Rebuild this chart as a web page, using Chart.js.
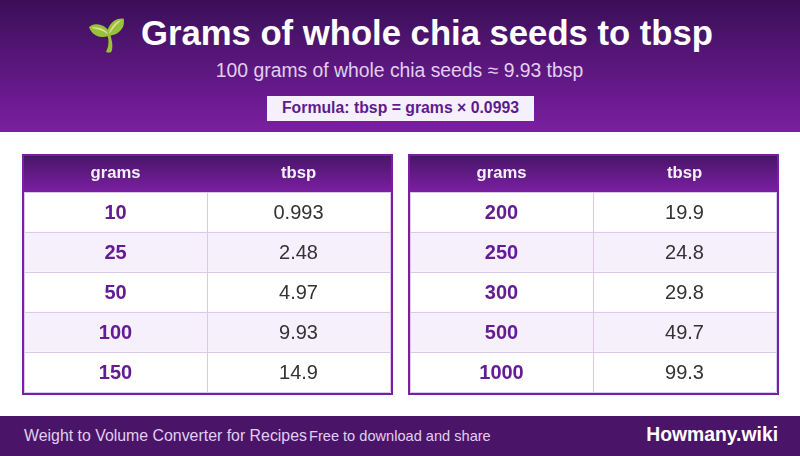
<!DOCTYPE html>
<html>
<head>
<meta charset="utf-8">
<script src="https://cdn.jsdelivr.net/npm/chart.js@4/dist/chart.umd.min.js"></script>
<style>
  html, body { margin: 0; padding: 0; background: #fff; }
  body { width: 800px; height: 456px; position: relative; overflow: hidden; font-family: "Liberation Sans", Arial, sans-serif; }
  .top { position: absolute; left: 0; top: 0; width: 800px; height: 132px; background: linear-gradient(180deg, #3a0f58, #7b1fa2); text-align: center; }
  .top h1 { position: absolute; left: 141px; top: 13px; margin: 0; font-size: 34.67px; line-height: 40px; font-weight: bold; color: #fff; white-space: pre; }
  .top .sprout { position: absolute; left: 87px; top: 15px; font-size: 32px; line-height: 40px; }
  .top .sub { position: absolute; left: 0; right: 1px; top: 60px; font-size: 19.33px; line-height: 21px; color: #e0d0ee; }
  .top .formula { position: absolute; left: 267px; top: 96px; width: 267px; height: 25px; line-height: 24px; background: #f5f0fb; color: #5f1a8e; font-size: 15.8px; font-weight: bold; }
  .table { position: absolute; top: 154px; width: 367px; height: 237px; border: 2px solid #7b1fa2; }
  .table .head { position: absolute; left: 0; top: 0; width: 367px; height: 36px; background: linear-gradient(180deg, #4a1569, #7b1fa2); }
  .table canvas { position: absolute; left: 0; top: 0; }
  .foot { position: absolute; left: 0; top: 416px; width: 800px; height: 40px; background: #4a1569; color: #e0cff0; white-space: nowrap; }
  .foot span { position: absolute; line-height: 40px; }
  .foot .a { left: 24px; font-size: 15.88px; }
  .foot .b { left: 309px; font-size: 14.6px; }
  .foot .brand { right: 22px; top: -1px; font-size: 19.33px; font-weight: bold; color: #fff; }
</style>
</head>
<body>
<div class="top">
  <span class="sprout">🌱</span>
  <h1>Grams of whole chia seeds to tbsp</h1>
  <div class="sub">100 grams of whole chia seeds ≈ 9.93 tbsp</div>
  <div class="formula">Formula: tbsp = grams × 0.0993</div>
</div>
<div class="table" style="left:22px"><div class="head"></div><canvas id="tableLeft" width="367" height="237"></canvas></div>
<div class="table" style="left:408px"><div class="head"></div><canvas id="tableRight" width="367" height="237"></canvas></div>
<div class="foot">
  <span class="a">Weight to Volume Converter for Recipes</span>
  <span class="b">Free to download and share</span>
  <span class="brand">Howmany.wiki</span>
</div>
<script>
const columns = ['grams', 'tbsp'];
const gramsLeft = ['10', '25', '50', '100', '150'];
const tbspLeft = ['0.993', '2.48', '4.97', '9.93', '14.9'];
const gramsRight = ['200', '250', '300', '500', '1000'];
const tbspRight = ['19.9', '24.8', '29.8', '49.7', '99.3'];

const lineColor = '#dbc9ea';
const stripeColor = '#f5f0fb';

// draws the cell values at the scale positions of their row and column
const cellText = {
  id: 'cellText',
  afterDraw(chart) {
    const { ctx, scales } = chart;
    const values = chart.options.plugins.cellText.values;
    ctx.save();
    ctx.textAlign = 'center';
    ctx.textBaseline = 'middle';
    chart.data.labels.forEach((g, i) => {
      const y = scales.y.getPixelForValue(i) + 1;
      ctx.font = 'bold 20px "Liberation Sans"';
      ctx.fillStyle = '#641b93';
      ctx.fillText(g, scales.x.getPixelForValue(0), y);
      ctx.font = '20px "Liberation Sans"';
      ctx.fillStyle = '#333333';
      ctx.fillText(values[i], scales.x.getPixelForValue(1), y);
    });
    ctx.restore();
  }
};

function drawTable(id, grams, tbsp) {
  new Chart(document.getElementById(id), {
    type: 'bar',
    plugins: [cellText],
    data: {
      labels: grams,
      datasets: [{
        xAxisID: 'band',
        data: grams.map(() => 1),
        barPercentage: 1,
        categoryPercentage: 1,
        backgroundColor: ctx => ctx.dataIndex % 2 ? stripeColor : '#ffffff'
      }]
    },
    options: {
      indexAxis: 'y',
      responsive: false,
      animation: false,
      devicePixelRatio: 1,
      layout: { padding: { right: 1, bottom: 1 } },
      plugins: {
        legend: { display: false },
        title: { display: false },
        tooltip: { enabled: false },
        cellText: { values: tbsp }
      },
      scales: {
        x: {
          type: 'category',
          labels: columns,
          position: 'top',
          offset: true,
          afterFit(scale) { scale.height = 36; },
          border: { display: false },
          grid: { offset: true, color: lineColor, lineWidth: 1, drawTicks: false, z: 1 },
          ticks: { color: '#f5f0fb', font: { family: '"Liberation Sans"', size: 16.67, weight: 'bold' }, padding: 9, maxRotation: 0 }
        },
        band: { type: 'linear', display: false, min: 0, max: 1 },
        y: {
          type: 'category',
          offset: true,
          afterFit(scale) { scale.width = 0; },
          border: { display: false },
          grid: { offset: true, color: lineColor, lineWidth: 1, drawTicks: false, z: 1 },
          ticks: { display: false }
        }
      }
    }
  });
}

drawTable('tableLeft', gramsLeft, tbspLeft);
drawTable('tableRight', gramsRight, tbspRight);
</script>
</body>
</html>
